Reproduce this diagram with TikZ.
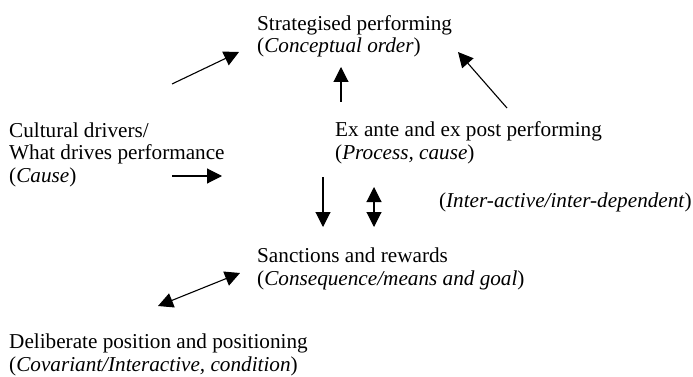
\documentclass[tikz,border=0pt]{standalone}
\usepackage{fontspec}
\setmainfont{Liberation Serif}
\usetikzlibrary{arrows.meta}
\begin{document}
\begin{tikzpicture}[x=1pt,y=-1pt,
  lbl/.style={anchor=base west,align=left,inner sep=0pt,font=\fontsize{21.2}{22.5}\selectfont},
  arr/.style={-{Triangle[length=15pt,width=15pt]},line width=1.1pt},
  darr/.style={{Triangle[length=15pt,width=15pt]}-{Triangle[length=15pt,width=15pt]},line width=1.1pt}]
\useasboundingbox (0,0) rectangle (693,377);
% concepts (base = last line)
\node[lbl] (strat) at (257,53) {Strategised performing\\(\textit{Conceptual order})};
\node[lbl] (drivers) at (9,182) {Cultural drivers/\\What drives performance\\(\textit{Cause})};
\node[lbl] (exante) at (335,159) {Ex ante and ex post performing\\(\textit{Process, cause})};
\node[lbl,anchor=base east] (interdep) at (692,207) {(\textit{Inter-active/inter-dependent})};
\node[lbl] (sanct) at (257,285) {Sanctions and rewards\\(\textit{Consequence/means and goal})};
\node[lbl] (posit) at (9,371) {Deliberate position and positioning\\(\textit{Covariant/Interactive, condition})};
% arrow ends
\coordinate (a1) at (172,84);  \coordinate (b1) at (239,52);
\coordinate (a2) at (341,102); \coordinate (b2) at (341,67);
\coordinate (a3) at (507,108); \coordinate (b3) at (458,52);
\coordinate (a4) at (172,176); \coordinate (b4) at (222,176);
\coordinate (a5) at (323,177); \coordinate (b5) at (323,227);
\coordinate (a6) at (374,187); \coordinate (b6) at (374,227);
\coordinate (a7) at (240,273); \coordinate (b7) at (158,306);
\foreach \i in {1,...,5} \draw[arr] (a\i) -- (b\i);
\foreach \i in {6,7} \draw[darr] (a\i) -- (b\i);
\end{tikzpicture}
\end{document}
